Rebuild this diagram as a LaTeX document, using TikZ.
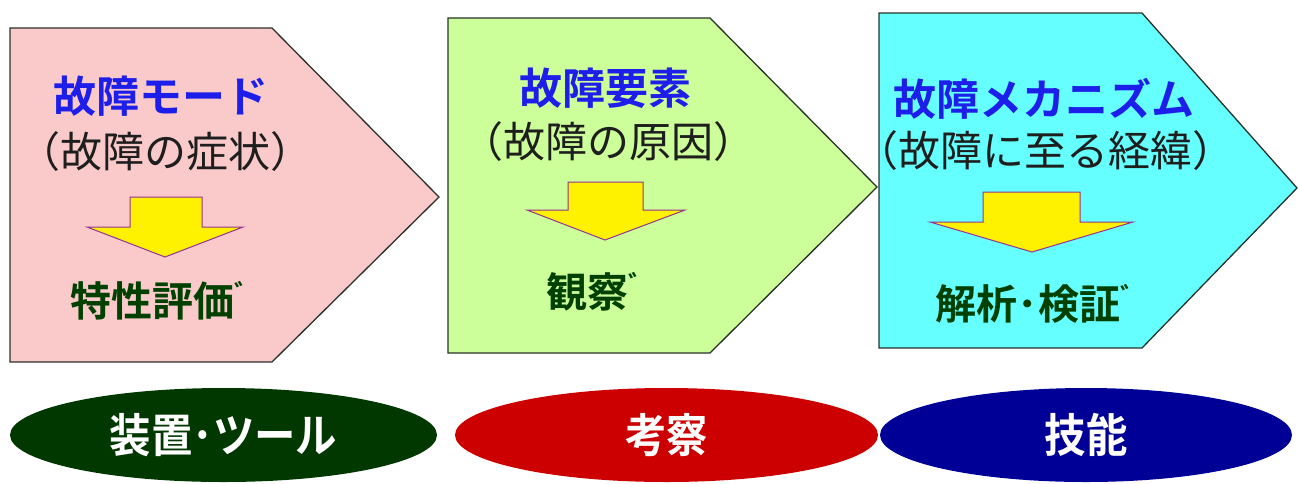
\documentclass[tikz,border=0pt]{standalone}
\usepackage{fontspec}
\newfontfamily\jp{Noto Sans CJK JP}
\newfontfamily\jpb{Noto Sans CJK JP Bold}
\definecolor{pinkf}{RGB}{250,202,202}
\definecolor{greenf}{RGB}{204,255,153}
\definecolor{cyanf}{RGB}{102,255,255}
\definecolor{edge}{RGB}{40,50,40}
\definecolor{titleblue}{RGB}{30,30,235}
\definecolor{subblack}{RGB}{30,30,30}
\definecolor{darkgreen}{RGB}{0,64,0}
\definecolor{arrowedge}{RGB}{150,50,150}
\definecolor{ellgreen}{RGB}{0,56,0}
\definecolor{ellred}{RGB}{204,0,0}
\definecolor{ellblue}{RGB}{0,0,150}
\usetikzlibrary{shapes.geometric}
\tikzset{
  pent/.style={draw=edge, line width=1.3pt, line join=miter},
  downarrow/.style={fill=yellow, draw=arrowedge, line width=1pt, line join=miter},
  titletext/.style={text=titleblue, font=\jpb\fontsize{43}{43}\selectfont, inner sep=0pt},
  subtext/.style={text=subblack, font=\jp\fontsize{42}{42}\selectfont, inner sep=0pt},
  acttext/.style={text=darkgreen, font=\jpb\fontsize{41}{41}\selectfont, inner sep=0pt},
  oval/.style={ellipse, minimum width=#1, minimum height=94pt, inner sep=0pt, text=white, font=\jpb\fontsize{46}{46}\selectfont},
}
\newcommand{\dkt}{{\fontsize{26}{26}\selectfont\raisebox{0.5em}{゛}}}
\newcommand{\cond}[1]{\scalebox{0.9}[1]{#1}}
\begin{document}
\begin{tikzpicture}[x=1pt,y=-1pt]
\useasboundingbox (0,0) rectangle (1298,483);
% pentagons
\draw[pent, fill=pinkf] (10,28) -- (272,28) -- (439,197) -- (272,362) -- (10,362) -- cycle;
\draw[pent, fill=greenf] (448,18) -- (710,18) -- (877,187) -- (710,353) -- (448,353) -- cycle;
\draw[pent, fill=cyanf] (879,13) -- (1142,13) -- (1297,188) -- (1142,348) -- (879,348) -- cycle;
% arrows
\draw[downarrow] (130,197) -- (202,197) -- (202,227) -- (243,227) -- (165,257) -- (87,227) -- (130,227) -- cycle;
\draw[downarrow] (568,182) -- (643,182) -- (643,210) -- (685,210) -- (605,240) -- (527,210) -- (568,210) -- cycle;
\draw[downarrow] (983,192) -- (1080,192) -- (1080,222) -- (1133,222) -- (1032,252) -- (930,222) -- (983,222) -- cycle;
% texts
\node[titletext] (t1) at (161,96) {故障モード};
\node[subtext] (s1) at (165,152) {（故障の症状）};
\node[acttext] (a1) at (165,301) {特性評価\dkt};
\node[titletext] (t2) at (605,88) {故障要素};
\node[subtext] (s2) at (608,142) {（故障の原因）};
\node[acttext] (a2) at (600,292) {観察\dkt};
\node[titletext] (t3) at (1044,99) {故障メカニズム};
\node[subtext] (s3) at (1045,151) {（故障に至る経緯）};
\node[acttext] (a3) at (1041,304) {解析･検証\dkt};
% ovals
\node[oval=427pt, fill=ellgreen] (e1) at (223.5,435) {\cond{装置･ツール}};
\node[oval=423pt, fill=ellred] (e2) at (666.5,435) {\cond{考察}};
\node[oval=412pt, fill=ellblue] (e3) at (1086,435) {\cond{技能}};
\end{tikzpicture}
\end{document}
